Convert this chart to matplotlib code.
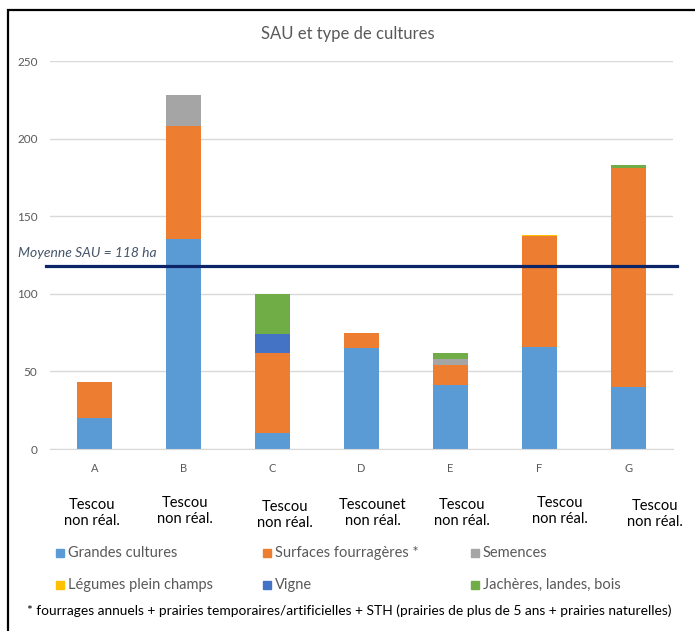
import matplotlib
matplotlib.use("Agg")
import matplotlib.pyplot as plt
from matplotlib.patches import Rectangle
import numpy as np

plt.rcParams['font.family'] = ['Lato', 'DejaVu Sans']

# --- data -------------------------------------------------------------
exploitations = ["A", "B", "C", "D", "E", "F", "G"]
bassins = ["Tescou\nnon réal.", "Tescou\nnon réal.", "Tescou\nnon réal.",
           "Tescounet\nnon réal.", "Tescou\nnon réal.", "Tescou\nnon réal.",
           "Tescou\nnon réal."]

grandes_cultures = [20, 135, 10, 65, 41, 66, 40]
surfaces_fourrageres = [23, 73, 52, 10, 13, 71, 141]
semences = [0, 20, 0, 0, 4, 0, 0]
legumes = [0, 0, 0, 0, 0, 1, 0]
vigne = [0, 0, 12, 0, 0, 0, 0]
jacheres = [0, 0, 26, 0, 4, 0, 2]

moyenne_sau = 118
y_ticks = [0, 50, 100, 150, 200, 250]

series_names = ["Grandes cultures", "Surfaces fourragères *", "Semences",
                "Légumes plein champs", "Vigne", "Jachères, landes, bois"]
series_values = [grandes_cultures, surfaces_fourrageres, semences,
                 legumes, vigne, jacheres]
series_colors = ["#5b9bd5", "#ed7d31", "#a5a5a5", "#ffc000", "#4472c4", "#70ad47"]

# --- figure -----------------------------------------------------------
W, H = 695, 631
fig = plt.figure(figsize=(W / 100, H / 100), dpi=100)


def fx(px):
    return px / W


def fy(py):
    return 1 - py / H


# chart frame
fig.patches.append(Rectangle((fx(8), fy(700)), fx(720), fy(10) - fy(700),
                             transform=fig.transFigure, fill=False,
                             edgecolor="black", linewidth=1.6))

ax = fig.add_axes([fx(50), fy(449), fx(673) - fx(50), fy(61) - fy(449)])

x = np.arange(len(exploitations))
bottom = np.zeros(len(exploitations))
for vals, col in zip(series_values, series_colors):
    vals = np.array(vals, dtype=float)
    ax.bar(x, vals, width=0.40, bottom=bottom, color=col, zorder=2)
    bottom += vals

ax.set_xlim(-0.5, len(exploitations) - 0.5)
ax.set_ylim(0, 250)
ax.set_yticks(y_ticks)
ax.set_yticklabels([str(t) for t in y_ticks])
ax.set_xticks(x)
ax.set_xticklabels(exploitations)
ax.tick_params(axis="both", length=0, colors="#595959", labelsize=8)
ax.tick_params(axis="y", pad=9, labelsize=8.5)
ax.tick_params(axis="x", pad=10)
ax.grid(axis="y", color="#d9d9d9", linewidth=1.0, zorder=0)
for s in ax.spines.values():
    s.set_visible(False)
ax.spines["bottom"].set_visible(True)
ax.spines["bottom"].set_color("#d9d9d9")

# average line
ax.plot([-0.545, 6.545], [moyenne_sau, moyenne_sau], color="#0b2566",
        linewidth=2.3, zorder=3, clip_on=False)
fig.text(fx(18), fy(253), f"Moyenne SAU = {moyenne_sau} ha", style="italic",
         color="#44546a", fontsize=10, ha="left", va="center")

# title
fig.text(fx(348), fy(34), "SAU et type de cultures", color="#595959",
         fontsize=12, ha="center", va="center")

# watershed labels under each farm
label_pos = [(92, 513), (185, 511), (285, 515), (373, 513), (462, 513),
             (560, 511), (655, 514)]
for (px, py), lab in zip(label_pos, bassins):
    fig.text(fx(px), fy(py), lab, ha="center", va="center", fontsize=10.5,
             color="black", linespacing=1.15)

# legend
leg_cols = [60, 267, 475]
leg_rows = [553, 585]
for i, (name, col) in enumerate(zip(series_names, series_colors)):
    cx = leg_cols[i % 3]
    cy = leg_rows[i // 3]
    fig.patches.append(Rectangle((fx(cx - 4), fy(cy + 4)), fx(8), fy(cy - 4) - fy(cy + 4),
                                 transform=fig.transFigure, color=col))
    fig.text(fx(cx + 8), fy(cy), name, color="#595959", fontsize=10.5,
             ha="left", va="center")

fig.text(fx(27), fy(611),
         "* fourrages annuels + prairies temporaires/artificielles + STH "
         "(prairies de plus de 5 ans + prairies naturelles)",
         color="black", fontsize=9.9, ha="left", va="center")

fig.savefig("out.png", dpi=100, facecolor="white")
